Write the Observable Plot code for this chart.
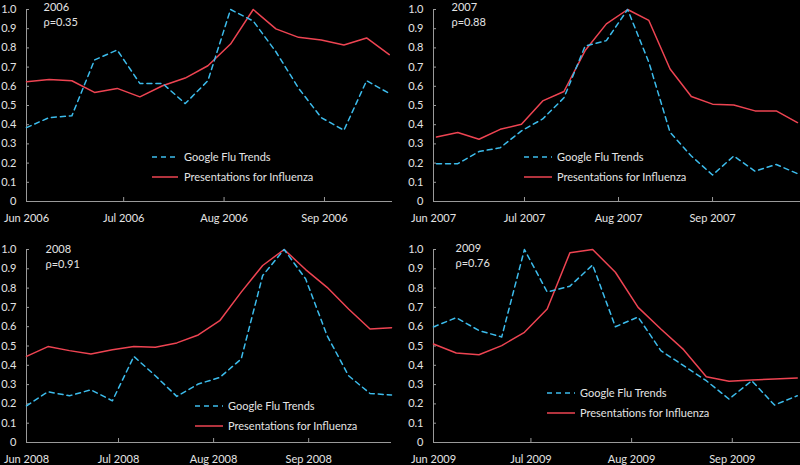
<!DOCTYPE html>
<html>
<head>
<meta charset="utf-8">
<script src="https://cdn.jsdelivr.net/npm/d3@7"></script>
<script src="https://cdn.jsdelivr.net/npm/@observablehq/plot@0.6"></script>
<style>
  html, body { margin: 0; padding: 0; background: #000; }
  #wrap { position: relative; width: 800px; height: 465px; background: #000; overflow: hidden; font-family: Lato, "Open Sans", sans-serif; }
  .panel { position: absolute; }
  .panel svg { display: block; }
  .legend { position: absolute; left: 0; top: 0; pointer-events: none; }
</style>
</head>
<body>
<div id="wrap"></div>
<script>
// ---- Data (weekly, normalised to peak = 1) ----
const years = ["2006", "2007", "2008", "2009"];
const rho = ["ρ=0.35", "ρ=0.88", "ρ=0.91", "ρ=0.76"];
const startDates = ["2006-06-01", "2007-06-02", "2008-06-01", "2009-06-01"];
const domainEnds = ["2006-09-22", "2007-09-30", "2008-09-28", "2009-09-22"];

const gft2006  = [0.385,0.437,0.446,0.737,0.789,0.615,0.615,0.51,0.629,1.0,0.94,0.78,0.59,0.437,0.371,0.629,0.563];
const pres2006 = [0.624,0.636,0.629,0.568,0.589,0.545,0.603,0.643,0.707,0.82,1.0,0.899,0.855,0.841,0.815,0.852,0.765];

const gft2007  = [0.197,0.197,0.26,0.28,0.368,0.43,0.54,0.81,0.838,1.0,0.725,0.36,0.237,0.138,0.237,0.158,0.193,0.145];
const pres2007 = [0.336,0.359,0.324,0.376,0.402,0.524,0.573,0.786,0.925,1.0,0.943,0.69,0.547,0.507,0.503,0.472,0.472,0.411];

const gft2008  = [0.19,0.263,0.242,0.273,0.216,0.446,0.346,0.239,0.303,0.337,0.433,0.865,1.0,0.848,0.554,0.346,0.254,0.246];
const pres2008 = [0.446,0.497,0.476,0.458,0.481,0.497,0.493,0.516,0.557,0.631,0.779,0.917,1.0,0.896,0.804,0.692,0.588,0.595];

const gft2009  = [0.599,0.647,0.58,0.547,1.0,0.78,0.81,0.92,0.60,0.65,0.476,0.398,0.32,0.225,0.32,0.194,0.242];
const pres2009 = [0.51,0.464,0.455,0.502,0.571,0.692,0.983,1.0,0.882,0.7,0.588,0.481,0.341,0.317,0.324,0.329,0.334];

const gftSeries = [gft2006, gft2007, gft2008, gft2009];
const presSeries = [pres2006, pres2007, pres2008, pres2009];

const yTicks = [0,0.1,0.2,0.3,0.4,0.5,0.6,0.7,0.8,0.9,1.0];
const seriesNames = ["Google Flu Trends", "Presentations for Influenza"];

// ---- Styles ----
const BLUE = "#3cbcec";
const RED = "#ee4452";
const AXIS = "#9a9a9a";
const TEXT = "#e4e4e4";
const FONT = "Lato, 'Open Sans', sans-serif";

// panel layout
const layout = [
  {left: 0,   top: 0,   w: 400, h: 232, ml: 26, mr: 8, mt: 9,  mb: 31, tx: 17, ty: -2, leg: {x0: 152, x1: 178, tx: 184, y: 157}},
  {left: 400, top: 0,   w: 400, h: 232, ml: 33, mr: 0, mt: 9,  mb: 31, tx: 18, ty: -2, leg: {x0: 124, x1: 152, tx: 157, y: 157}},
  {left: 0,   top: 232, w: 400, h: 233, ml: 26, mr: 9, mt: 17, mb: 23, tx: 19, ty: 0,  leg: {x0: 195, x1: 223, tx: 228, y: 174}},
  {left: 400, top: 232, w: 400, h: 233, ml: 33, mr: 0, mt: 17, mb: 23, tx: 22, ty: -1, leg: {x0: 147, x1: 175, tx: 180, y: 161}}
];

const wrap = document.getElementById("wrap");
const fmtMonth = d3.utcFormat("%b %Y");

years.forEach((yr, i) => {
  const L = layout[i];
  const start = new Date(startDates[i] + "T00:00:00Z");
  const domStart = new Date(yr + "-06-01T00:00:00Z");
  const domEnd = new Date(domainEnds[i] + "T00:00:00Z");
  const data = gftSeries[i].map((g, k) => ({
    date: d3.utcDay.offset(start, 7 * k),
    gft: g,
    pres: presSeries[i][k]
  }));
  const months = d3.utcMonths(domStart, d3.utcDay.offset(domEnd, 1));

  const chart = Plot.plot({
    width: L.w,
    height: L.h,
    marginLeft: L.ml,
    marginRight: L.mr,
    marginTop: L.mt,
    marginBottom: L.mb,
    style: {background: "transparent", color: TEXT, fontFamily: FONT, fontSize: "11px", overflow: "visible"},
    x: {type: "utc", domain: [domStart, domEnd]},
    y: {domain: [0, 1]},
    marks: [
      Plot.axisY({ticks: yTicks, tickSize: 0, tickPadding: 10, label: null, fill: TEXT,
        tickFormat: d => d === 0 ? "0" : d.toFixed(1)}),
      Plot.axisY({ticks: yTicks, tickSize: 3, dx: 3, label: null, stroke: AXIS, tickFormat: () => ""}),
      Plot.axisX({ticks: months, tickSize: 0, tickPadding: 13, label: null, fill: TEXT, tickFormat: fmtMonth}),
      Plot.axisX({ticks: months.slice(1), tickSize: 4, dy: -4, label: null, stroke: AXIS, tickFormat: () => ""}),
      Plot.ruleX([domStart], {stroke: AXIS, strokeWidth: 1}),
      Plot.ruleY([0], {stroke: AXIS, strokeWidth: 1}),
      Plot.line(data, {x: "date", y: "pres", stroke: RED, strokeWidth: 1.5}),
      Plot.line(data, {x: "date", y: "gft", stroke: BLUE, strokeWidth: 1.5, strokeDasharray: "5,4"}),
      Plot.text([yr], {frameAnchor: "top-left", dx: L.tx, dy: L.ty, textAnchor: "start", lineAnchor: "middle", fill: TEXT, fontSize: 11}),
      Plot.text([rho[i]], {frameAnchor: "top-left", dx: L.tx, dy: L.ty + 15, textAnchor: "start", lineAnchor: "middle", fill: TEXT, fontSize: 11})
    ]
  });

  const panel = document.createElement("div");
  panel.className = "panel";
  panel.style.left = L.left + "px";
  panel.style.top = L.top + "px";
  panel.style.width = L.w + "px";
  panel.style.height = L.h + "px";
  panel.appendChild(chart);

  // legend overlay
  const g = L.leg;
  const ns = "http://www.w3.org/2000/svg";
  const leg = document.createElementNS(ns, "svg");
  leg.setAttribute("class", "legend");
  leg.setAttribute("width", L.w);
  leg.setAttribute("height", L.h);
  [[BLUE, "5,4"], [RED, null]].forEach(([c, dash], j) => {
    const y = g.y + 20 * j;
    const ln = document.createElementNS(ns, "line");
    ln.setAttribute("x1", g.x0); ln.setAttribute("x2", g.x1);
    ln.setAttribute("y1", y); ln.setAttribute("y2", y);
    ln.setAttribute("stroke", c); ln.setAttribute("stroke-width", 1.5);
    if (dash) ln.setAttribute("stroke-dasharray", dash);
    leg.appendChild(ln);
    const t = document.createElementNS(ns, "text");
    t.setAttribute("x", g.tx); t.setAttribute("y", y);
    t.setAttribute("dy", "0.35em");
    t.setAttribute("fill", TEXT);
    t.setAttribute("font-family", FONT);
    t.setAttribute("font-size", 11);
    t.textContent = seriesNames[j];
    leg.appendChild(t);
  });
  panel.appendChild(leg);
  wrap.appendChild(panel);
});
</script>
</body>
</html>
